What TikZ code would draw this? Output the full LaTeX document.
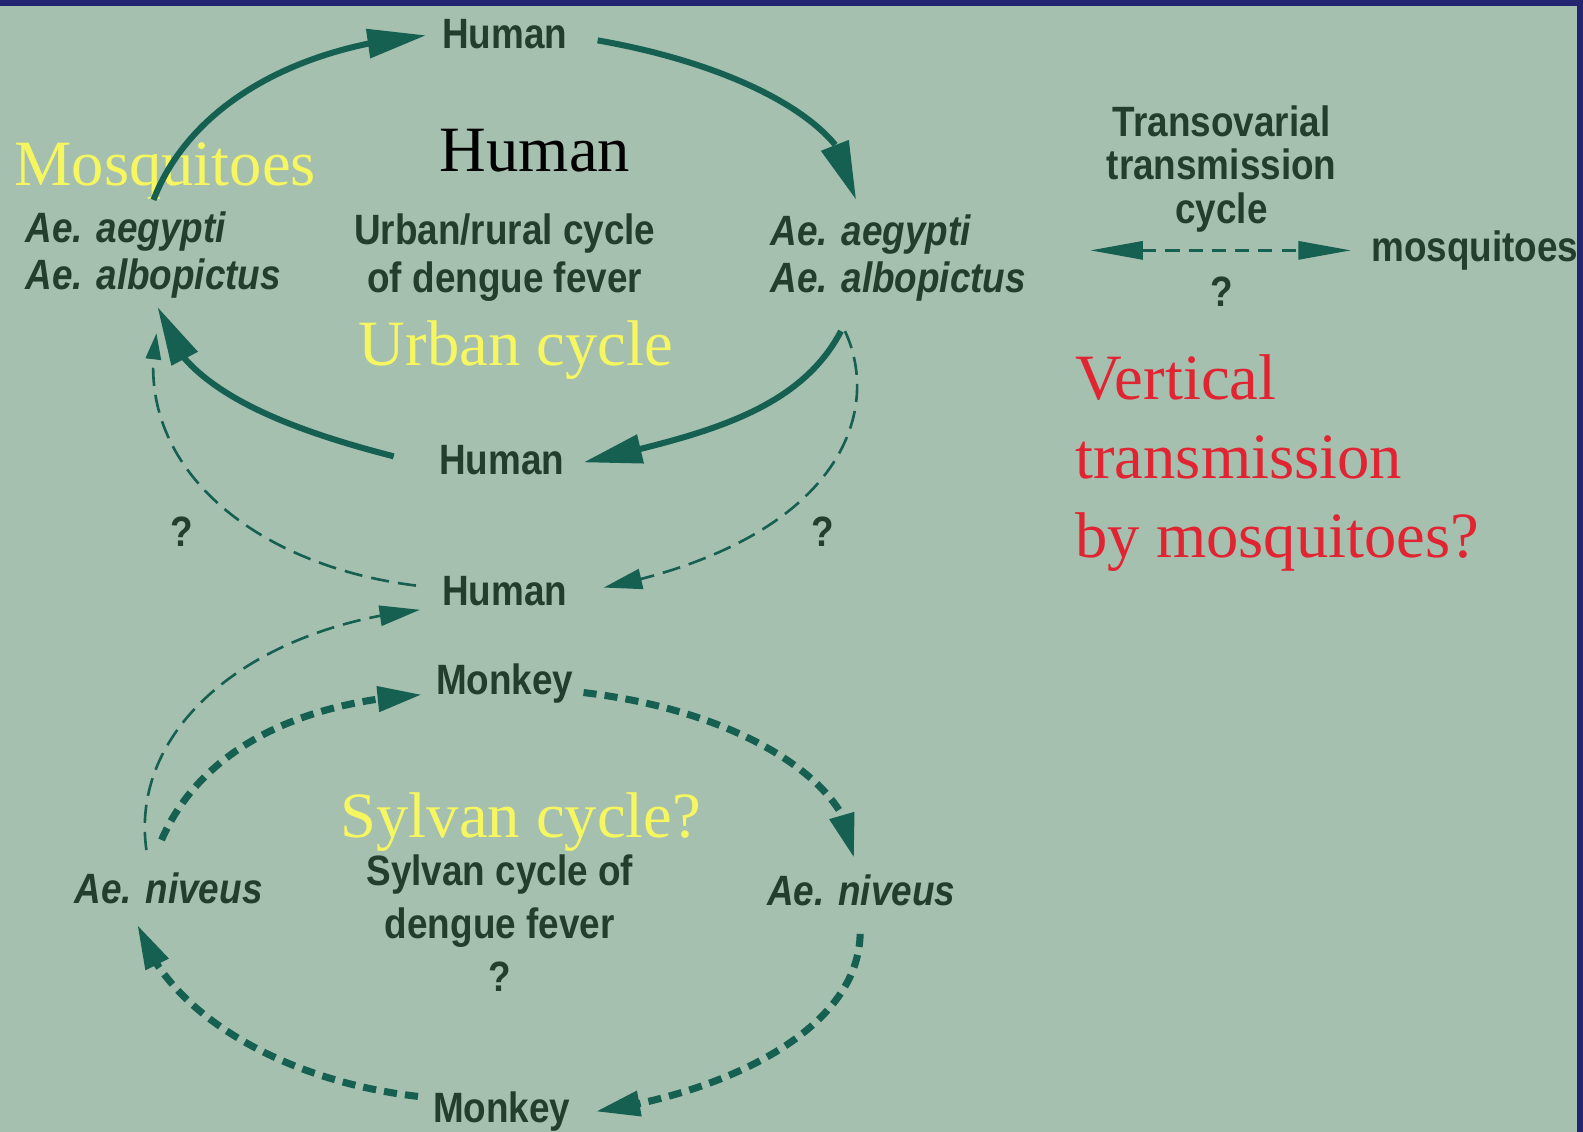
\documentclass[tikz,border=0pt]{standalone}
\usepackage{fontspec}
\setmainfont{Liberation Serif}
\newfontfamily\cond[FakeStretch=0.87]{Liberation Sans}
\usetikzlibrary{arrows.meta,bending}
\definecolor{bgc}{RGB}{166,192,176}
\definecolor{ink}{RGB}{36,62,46}
\definecolor{arrowc}{RGB}{22,96,82}
\definecolor{navyc}{RGB}{36,36,112}
\definecolor{yel}{RGB}{246,246,96}
\definecolor{redt}{RGB}{224,36,50}
\tikzset{
  lab/.style={font=\cond\bfseries\fontsize{42}{48}\selectfont, text=ink, inner sep=0pt, anchor=base},
  ilab/.style={lab, font=\cond\bfseries\itshape\fontsize{42}{47}\selectfont},
  serifbig/.style={font=\fontsize{64}{78}\selectfont, inner sep=0pt, anchor=base},
  solidarr/.style={draw=arrowc, line width=6pt, -{Triangle[length=58pt,width=28pt,flex]}},
  thinarr/.style={draw=arrowc, line width=2.6pt, dash pattern=on 18pt off 9pt},
  thickarr/.style={draw=arrowc, line width=7pt, dash pattern=on 13pt off 8pt, -{Triangle[length=44pt,width=24pt,flex]}}
}
\begin{document}
\begin{tikzpicture}[x=1pt,y=-1pt]
\useasboundingbox (0,0) rectangle (1568,1121);
\fill[bgc] (0,0) rectangle (1568,1121);
\fill[navyc] (0,0) rectangle (1568,6);
\fill[navyc] (1562,0) rectangle (1568,1121);

% text nodes (multi-line nodes are placed by the baseline of their last line)
\node[lab] (h1) at (500,48) {Human};
\node[serifbig, text=black] (hblack) at (530,170) {Human};
\node[serifbig, text=yel, anchor=base west] (mosq) at (14,184) {Mosquitoes};
\node[ilab, anchor=base west, align=left] (aeL) at (25,287) {Ae. aegypti\\Ae. albopictus};
\node[lab, align=center] (urb) at (500,290) {Urban/rural cycle\\of dengue fever};
\node[ilab, anchor=base west, align=left] (aeR) at (763,290) {Ae. aegypti\\Ae. albopictus};
\node[serifbig, text=yel] (ucyc) at (511,362) {Urban cycle};
\node[lab] (h2) at (497,470) {Human};
\node[lab] (q1) at (180,541) {?};
\node[lab] (q2) at (815,541) {?};
\node[lab] (h3) at (500,600) {Human};
\node[lab] (m1) at (500,688) {Monkey};
\node[serifbig, text=yel] (scyc) at (516,830) {Sylvan cycle?};
\node[lab, align=center, font=\cond\bfseries\fontsize{42}{52.5}\selectfont] (syl) at (495,982) {Sylvan cycle of\\dengue fever\\?};
\node[ilab] (nivL) at (167,895) {Ae. niveus};
\node[ilab] (nivR) at (853,897) {Ae. niveus};
\node[lab] (m2) at (497,1112) {Monkey};
\node[lab, align=center, font=\cond\bfseries\fontsize{42}{43}\selectfont] (trans) at (1210,221) {Transovarial\\transmission\\cycle};
\node[lab] (q3) at (1210,304) {?};
\node[lab, anchor=base west] (mq) at (1358,259) {mosquitoes};
\node[serifbig, text=redt, anchor=base west, align=left] (vert) at (1065,552) {Vertical\\transmission\\by mosquitoes?};

% arrow end points
\coordinate (a1s) at (152,198);  \coordinate (a1e) at (422,35);
\coordinate (a2s) at (592,40);   \coordinate (a2e) at (848,198);
\coordinate (a3s) at (833,328);  \coordinate (a3e) at (578,458);
\coordinate (a4s) at (390,452);  \coordinate (a4e) at (156,304);
\coordinate (a5s) at (837,328);  \coordinate (a5e) at (598,582);
\coordinate (a6s) at (412,580);  \coordinate (a6e) at (155,330);
\coordinate (a7s) at (145,842);  \coordinate (a7e) at (416,604);
\coordinate (a8s) at (160,832);  \coordinate (a8e) at (418,688);
\coordinate (a9s) at (578,686);  \coordinate (a9e) at (846,850);
\coordinate (a10s) at (852,925); \coordinate (a10e) at (590,1101);
\coordinate (a11s) at (414,1086);\coordinate (a11e) at (136,916);
\coordinate (tl) at (1080,248);  \coordinate (tr) at (1338,248);

% urban cycle (solid)
\draw[solidarr] (a1s) .. controls (190,100) and (300,45) .. (a1e);
\draw[solidarr] (a2s) .. controls (740,66) and (852,128) .. (a2e);
\draw[solidarr] (a3s) .. controls (790,410) and (690,432) .. (a3e);
\draw[solidarr] (a4s) .. controls (265,420) and (172,378) .. (a4e);

% thin dashed links
\draw[thinarr, -{Triangle[length=38pt,width=20pt,flex]}] (a5s) .. controls (875,410) and (830,535) .. (a5e);
\draw[thinarr, -{Triangle[length=26pt,width=15pt,flex]}] (a6s) .. controls (250,560) and (130,460) .. (a6e);
\draw[thinarr, -{Triangle[length=40pt,width=20pt,flex]}] (a7s) .. controls (128,720) and (250,622) .. (a7e);

% sylvan cycle (thick dashed)
\draw[thickarr] (a8s) .. controls (200,740) and (300,695) .. (a8e);
\draw[thickarr] (a9s) .. controls (740,705) and (848,780) .. (a9e);
\draw[thickarr] (a10s) .. controls (850,1020) and (720,1082) .. (a10e);
\draw[thickarr] (a11s) .. controls (290,1072) and (168,1010) .. (a11e);

% transovarial
\draw[draw=arrowc, line width=2.6pt, dash pattern=on 14pt off 9pt,
  {Triangle[length=52pt,width=18pt]}-{Triangle[length=52pt,width=18pt]}] (tl) -- (tr);
\end{tikzpicture}
\end{document}
